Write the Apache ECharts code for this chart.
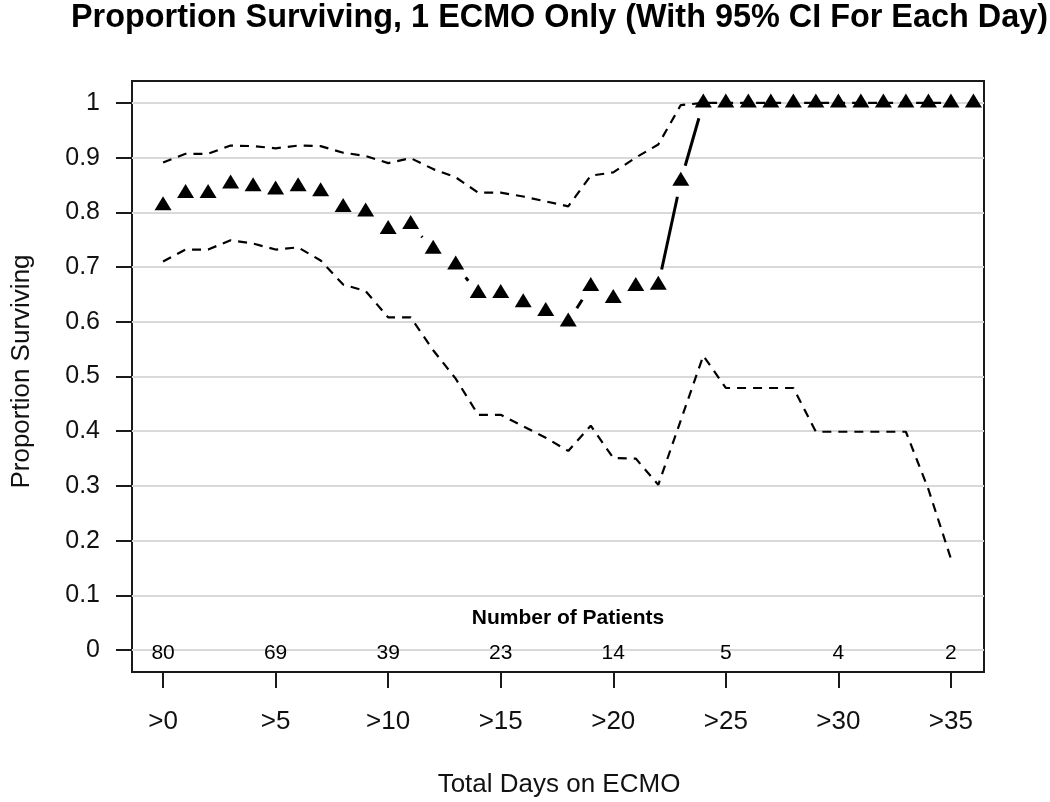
<!DOCTYPE html>
<html><head><meta charset="utf-8">
<script src="https://cdn.jsdelivr.net/npm/echarts@6/dist/echarts.min.js"></script>
<style>html,body{margin:0;padding:0;background:#fff}#c{width:1050px;height:802px}</style>
</head><body><div id="c"></div>
<script>
// ---- data ----
const days = [0,1,2,3,4,5,6,7,8,9,10,11,12,13,14,15,16,17,18,19,20,21,22,23,24,25,26,27,28,29,30,31,32,33,34,35,36];
const survival = [0.8125,0.835,0.835,0.852,0.847,0.841,0.847,0.838,0.809,0.801,0.769,0.778,0.733,0.704,0.652,0.652,0.635,0.619,0.600,0.665,0.643,0.665,0.667,0.857,1,1,1,1,1,1,1,1,1,1,1,1,1];
const upperCI = [0.891,0.907,0.907,0.922,0.921,0.917,0.922,0.921,0.909,0.903,0.890,0.899,0.879,0.864,0.836,0.836,0.829,0.820,0.811,0.867,0.873,0.900,0.924,0.996,1,1,1,1,1,1,1,1,1,1,1,1];
const lowerCI = [0.710,0.732,0.732,0.749,0.743,0.732,0.736,0.712,0.668,0.656,0.608,0.608,0.548,0.496,0.430,0.430,0.409,0.388,0.364,0.410,0.351,0.350,0.302,0.420,0.538,0.479,0.479,0.479,0.479,0.399,0.399,0.399,0.399,0.399,0.294,0.167];
const tickDays = [0,5,10,15,20,25,30,35];
const tickLabels = ['>0','>5','>10','>15','>20','>25','>30','>35'];
const patientCounts = [80,69,39,23,14,5,4,2];

// ---- layout ----
const FONT = 'Liberation Sans, Arial, sans-serif';
const BOX = {left:132, top:81, width:852, height:591};
const X_MIN = -1.38, X_MAX = 36.47, Y_MIN = -0.04, Y_MAX = 1.04;
const pxDay = BOX.width / (X_MAX - X_MIN);
const pxUnit = BOX.height / (Y_MAX - Y_MIN);

const pair = (xs, ys) => xs.slice(0, ys.length).map((x, i) => [x, ys[i]]);
const segs = [];
for (let i = 0; i < survival.length - 1; i++) segs.push([days[i], survival[i], days[i+1], survival[i+1]]);

const chart = echarts.init(document.getElementById('c'), null, {renderer:'canvas'});
chart.setOption({
  backgroundColor:'#fff',
  animation:false,
  title:{
    text:'Proportion Surviving, 1 ECMO Only (With 95% CI For Each Day)',
    left:71, top:0, padding:[2,0,0,0],
    textStyle:{fontFamily:FONT, fontSize:32.4, fontWeight:'bold', color:'#000'}
  },
  grid:[
    {left:BOX.left, width:BOX.width, top:BOX.top + (Y_MAX-1)*pxUnit, height:pxUnit, outerBoundsMode:'none', containLabel:false},
    {left:BOX.left + (0 - X_MIN)*pxDay, width:35*pxDay, top:BOX.top, height:BOX.height, outerBoundsMode:'none', containLabel:false},
    {left:BOX.left, width:BOX.width, top:BOX.top, height:BOX.height, show:true, borderColor:'#1a1a1a', borderWidth:2, backgroundColor:'transparent', outerBoundsMode:'none', containLabel:false}
  ],
  xAxis:[
    {gridIndex:0, type:'value', min:0, max:1, show:false},
    {gridIndex:1, type:'value', min:0, max:35, interval:5, position:'bottom',
      axisLine:{show:false}, splitLine:{show:false},
      axisTick:{show:true, length:16, lineStyle:{color:'#1a1a1a', width:2}},
      axisLabel:{margin:37, fontFamily:FONT, fontSize:26, color:'#111',
        formatter:v => tickLabels[tickDays.indexOf(v)]}},
    {gridIndex:2, type:'value', min:X_MIN, max:X_MAX, show:false}
  ],
  yAxis:[
    {gridIndex:0, type:'value', min:0, max:1, interval:0.1, position:'left',
      axisLine:{show:false},
      axisTick:{show:true, length:16, lineStyle:{color:'#1a1a1a', width:2}},
      axisLabel:{margin:32, fontFamily:FONT, fontSize:25, color:'#111', formatter:v => String(Math.round(v*10)/10)},
      splitLine:{show:true, lineStyle:{color:'#d9d9d9', width:2}}},
    {gridIndex:1, type:'value', min:0, max:1, show:false},
    {gridIndex:2, type:'value', min:Y_MIN, max:Y_MAX, show:false}
  ],
  graphic:[
    {type:'text', x:22, y:BOX.top + BOX.height/2 - 5, rotation:Math.PI/2,
      style:{text:'Proportion Surviving', fontFamily:FONT, fontSize:26, fill:'#111', align:'center', verticalAlign:'middle'}},
    {type:'text', x:BOX.left + BOX.width/2 + 1, y:785,
      style:{text:'Total Days on ECMO', fontFamily:FONT, fontSize:26, fill:'#111', align:'center', verticalAlign:'middle'}},
    {type:'text', x:568, y:618,
      style:{text:'Number of Patients', fontFamily:FONT, fontSize:21, fontWeight:'bold', fill:'#000', align:'center', verticalAlign:'middle'}}
  ],
  series:[
    {type:'line', name:'Upper 95% CI', xAxisIndex:2, yAxisIndex:2, data:pair(days, upperCI), symbol:'none',
      lineStyle:{color:'#000', width:2.2, type:[9,7]}, z:2},
    {type:'line', name:'Lower 95% CI', xAxisIndex:2, yAxisIndex:2, data:pair(days, lowerCI), symbol:'none',
      lineStyle:{color:'#000', width:2.2, type:[9,7]}, z:2},
    {type:'custom', name:'Survival line', xAxisIndex:2, yAxisIndex:2, data:segs, encode:{x:[0,2], y:[1,3]}, z:3,
      renderItem:function(params, api){
        const p0 = api.coord([api.value(0), api.value(1)]);
        const p1 = api.coord([api.value(2), api.value(3)]);
        const dx = p1[0]-p0[0], dy = p1[1]-p0[1], d = Math.hypot(dx, dy), gap = 16;
        if (d <= 2*gap) return {type:'group', children:[]};
        const ux = dx/d, uy = dy/d;
        return {type:'line', shape:{x1:p0[0]+ux*gap, y1:p0[1]+uy*gap, x2:p1[0]-ux*gap, y2:p1[1]-uy*gap},
          style:{stroke:'#000', lineWidth:3}};
      }},
    {type:'scatter', name:'Proportion surviving', xAxisIndex:2, yAxisIndex:2, data:pair(days, survival),
      symbol:'triangle', symbolSize:[17,14], symbolOffset:[0,-2.3], itemStyle:{color:'#000', opacity:1}, z:4},
    {type:'scatter', name:'Number of patients', xAxisIndex:2, yAxisIndex:2,
      data:tickDays.map((d, i) => [d, 0, patientCounts[i]]),
      symbol:'circle', symbolSize:0.5, itemStyle:{color:'#ffffff', opacity:1}, z:5,
      label:{show:true, position:'inside', offset:[0,3], formatter:p => String(p.value[2]),
        fontFamily:FONT, fontSize:21, color:'#000', opacity:1}}
  ]
});
</script></body></html>
